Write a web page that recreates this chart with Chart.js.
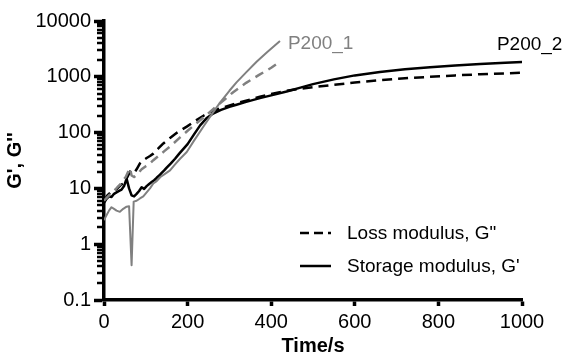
<!DOCTYPE html>
<html><head><meta charset="utf-8">
<script src="https://cdn.jsdelivr.net/npm/chart.js@4/dist/chart.umd.min.js"></script>
<style>html,body{margin:0;padding:0;background:#fff}</style>
</head><body>
<canvas id="c" width="566" height="356" style="width:566px;height:356px;display:block"></canvas>
<script>
// P200_2 storage modulus G' (black solid)
const p2StorageTime = [0,6,12,18,24,30,36,42,48,54,60,66,72,78,84,90,96,102,108,114,120,126,132,138,144,150,160,170,180,190,200,215,230,245,261,280,300,317,340,373,400,437,470,500,550,600,660,720,780,840,900,960,1000];
const p2StorageG = [5.5,6.5,7.2,7,8,8.5,9,9.5,11,15,10,7.5,7.2,8,9,10.5,9.8,11,12,13,14,15.5,17,19,21,23.5,28,34,42,51,62,92,135,180,220,255,290,315,355,415,465,545,640,740,900,1060,1220,1360,1480,1600,1700,1790,1840];
// P200_2 loss modulus G'' (black dashed)
const p2LossTime = [0,8,16,24,32,40,48,56,62,70,78,86,94,102,110,118,130,142,158,175,198,220,240,254,280,317,350,373,400,437,470,500,550,600,660,720,780,840,900,960,1000];
const p2LossG = [6,7.5,8.5,9,10,11.5,12.5,16,20,18,22,28,32,35,38,42,52,64,80,100,128,165,205,232,275,335,390,440,490,560,610,650,720,790,870,940,1000,1060,1110,1150,1180];
// P200_1 loss modulus G'' (grey dashed)
const p1LossTime = [0,8,16,24,32,40,46,52,58,62,66,72,80,90,100,110,118,130,145,160,182,200,220,246,270,290,309,340,370,400,421];
const p1LossG = [6,7,8,9,10.5,12,14,16,20,23,17,16,18,22,25,28,32,38,47,58,82,108,145,210,300,400,530,780,1070,1450,1860];
// P200_1 storage modulus G' (grey solid)
const p1StorageTime = [0,6,12,18,24,30,38,46,54,60,66,71,78,86,94,102,110,118,126,135,145,158,170,182,198,215,238,258,278,300,317,340,365,390,421];
const p1StorageG = [2.7,3.3,4,4.6,4.3,4,3.8,4.3,4.7,4.8,0.42,5.8,6,6.6,7.2,8.5,10,12.3,13.5,16,18,21,27,34,45,71,129,214,347,562,794,1200,1860,2750,4370];

const yTickValues = [0.1,1,10,100,1000,10000];
const yTickLabels = ['0.1','1','10','100','1000','10000'];
const xTickValues = [0,200,400,600,800,1000];
const legendLabels = ['Loss modulus, G"', "Storage modulus, G'"];
const seriesLabels = ['P200_1','P200_2'];

const FONT = "'Liberation Sans', Arial, sans-serif";
const GREY = '#808080';
const pts = (t, v) => t.map((x, i) => ({x, y: v[i]}));

const decorations = {
  id: 'decorations',
  afterDraw(chart) {
    const ctx = chart.ctx, ys = chart.scales.y, xs = chart.scales.x, ca = chart.chartArea;
    ctx.save();
    // minor log ticks
    ctx.strokeStyle = '#000'; ctx.lineWidth = 2.5;
    for (let d = 0.1; d < 10000; d *= 10) {
      for (let k = 2; k <= 9; k++) {
        const y = Math.round(ys.getPixelForValue(d * k));
        ctx.beginPath(); ctx.moveTo(ca.left - 7, y); ctx.lineTo(ca.left, y); ctx.stroke();
      }
    }
    // series labels
    ctx.font = '19px ' + FONT; ctx.textBaseline = 'middle'; ctx.textAlign = 'left';
    ctx.fillStyle = GREY;
    ctx.fillText(seriesLabels[0], xs.getPixelForValue(440), ys.getPixelForValue(3900));
    ctx.fillStyle = '#000';
    ctx.fillText(seriesLabels[1], xs.getPixelForValue(940), ys.getPixelForValue(3800));
    // legend
    const lx = ca.left + 196, ly = ca.top + 212, gap = 33;
    ctx.strokeStyle = '#000'; ctx.lineWidth = 2.5;
    ctx.setLineDash([9, 5]);
    ctx.beginPath(); ctx.moveTo(lx, ly); ctx.lineTo(lx + 31, ly); ctx.stroke();
    ctx.setLineDash([]);
    ctx.beginPath(); ctx.moveTo(lx, ly + gap); ctx.lineTo(lx + 31, ly + gap); ctx.stroke();
    ctx.fillStyle = '#000';
    ctx.fillText(legendLabels[0], lx + 47, ly + 1);
    ctx.fillText(legendLabels[1], lx + 47, ly + gap + 1);
    ctx.restore();
  }
};

new Chart(document.getElementById('c'), {
  type: 'line',
  data: {
    datasets: [
      {label: 'P200_1 G\'\'', data: pts(p1LossTime, p1LossG), borderColor: GREY, borderWidth: 2.5, borderDash: [9, 6]},
      {label: 'P200_1 G\'', data: pts(p1StorageTime, p1StorageG), borderColor: GREY, borderWidth: 2},
      {label: 'P200_2 G\'\'', data: pts(p2LossTime, p2LossG), borderColor: '#000', borderWidth: 2.5, borderDash: [10, 6]},
      {label: 'P200_2 G\'', data: pts(p2StorageTime, p2StorageG), borderColor: '#000', borderWidth: 2.5}
    ]
  },
  options: {
    responsive: false,
    animation: false,
    devicePixelRatio: 1,
    elements: {point: {radius: 0}, line: {tension: 0, borderJoinStyle: 'round', fill: false}},
    layout: {padding: {left: 0, right: 44, top: 21, bottom: 0}},
    plugins: {legend: {display: false}, tooltip: {enabled: false}, title: {display: false}},
    scales: {
      x: {
        type: 'linear', min: 0, max: 1000,
        afterBuildTicks: s => { s.ticks = xTickValues.map(v => ({value: v})); },
        afterFit: s => { s.height = 56; },
        ticks: {color: '#000', font: {size: 20, family: FONT}, padding: 4, maxRotation: 0,
          callback: v => String(v)},
        grid: {drawOnChartArea: false, drawTicks: true, tickLength: 6, tickWidth: 3.5, tickColor: '#000'},
        border: {display: true, color: '#000', width: 3.5},
        title: {display: true, text: 'Time/s', color: '#000', font: {size: 20, weight: 'bold', family: FONT, lineHeight: 1.0}, padding: {top: 0, bottom: 0}}
      },
      y: {
        type: 'logarithmic', min: 0.1, max: 10000,
        afterBuildTicks: s => { s.ticks = yTickValues.map(v => ({value: v})); },
        afterFit: s => { s.width = 104; },
        ticks: {color: '#000', font: {size: 20, family: FONT}, padding: 3,
          callback: (v, i) => yTickLabels[i]},
        grid: {drawOnChartArea: false, drawTicks: true, tickLength: 10, tickWidth: 3.5, tickColor: '#000'},
        border: {display: true, color: '#000', width: 3.5},
        title: {display: true, text: "G', G''", color: '#000', font: {size: 20, weight: 'bold', family: FONT}, padding: {top: 3, bottom: 0}}
      }
    }
  },
  plugins: [decorations]
});
</script>
</body></html>
